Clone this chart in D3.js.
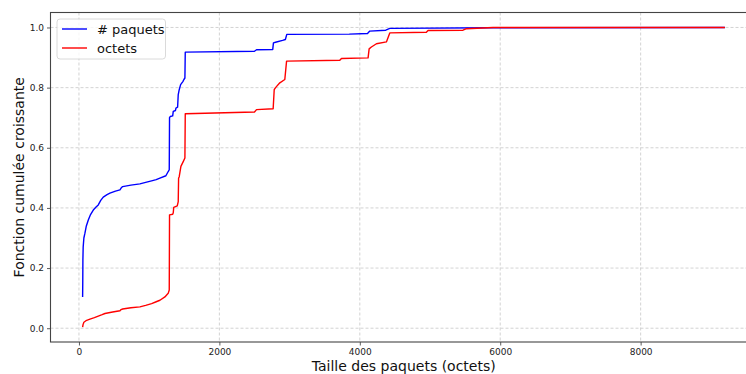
<!DOCTYPE html>
<html>
<head>
<meta charset="utf-8">
<script src="https://cdn.jsdelivr.net/npm/d3@7/dist/d3.min.js"></script>
<style>
  html, body { margin: 0; padding: 0; background: #fff; }
  svg { display: block; font-family: "DejaVu Sans", sans-serif; }
</style>
</head>
<body>
<svg id="chart" width="746" height="374"></svg>
<script>
// CDF of packet sizes: share of packets and share of bytes
const xPaquets = [52, 54, 56, 60, 70, 85, 105, 133, 165, 204, 240, 275, 310, 346, 400, 441, 520, 584, 600, 622,
  740, 868, 950, 1034, 1100, 1153, 1238, 1271, 1286, 1290, 1300, 1335, 1343, 1375, 1381, 1405, 1414, 1428, 1448,
  1480, 1495, 1509, 1514, 2500, 2529, 2760, 2770, 2800, 2900, 2940, 2960, 3850, 4110, 4142, 4370, 4427, 5900, 9200];
const yPaquets = [0.104, 0.15, 0.227, 0.27, 0.30, 0.316, 0.34, 0.36, 0.378, 0.393, 0.402, 0.41, 0.425, 0.436, 0.444,
  0.449, 0.456, 0.46, 0.466, 0.471, 0.476, 0.48, 0.485, 0.49, 0.494, 0.499, 0.507, 0.521, 0.527, 0.70, 0.704, 0.706,
  0.721, 0.724, 0.732, 0.735, 0.777, 0.793, 0.81, 0.82, 0.827, 0.832, 0.918, 0.921, 0.926, 0.927, 0.949, 0.951,
  0.957, 0.96, 0.977, 0.978, 0.98, 0.988, 0.991, 0.997, 0.999, 1.0];

const xOctets = [52, 58, 70, 100, 157, 220, 275, 330, 370, 480, 584, 600, 622, 740, 868, 950, 1035, 1100, 1153,
  1224, 1271, 1286, 1290, 1335, 1343, 1350, 1400, 1414, 1419, 1428, 1452, 1485, 1509, 1514, 2500, 2529, 2766,
  2781, 2800, 2861, 2932, 2957, 3715, 3739, 4118, 4133, 4165, 4237, 4379, 4427, 4948, 4972, 5470, 5519, 5898, 9200];
const yOctets = [0.004, 0.012, 0.02, 0.025, 0.03, 0.035, 0.04, 0.045, 0.049, 0.054, 0.058, 0.062, 0.064, 0.068,
  0.071, 0.076, 0.082, 0.088, 0.093, 0.104, 0.116, 0.127, 0.377, 0.379, 0.384, 0.402, 0.407, 0.421, 0.499, 0.504,
  0.538, 0.554, 0.566, 0.713, 0.719, 0.727, 0.73, 0.793, 0.80, 0.816, 0.827, 0.888, 0.891, 0.897, 0.899, 0.929,
  0.935, 0.946, 0.952, 0.982, 0.984, 0.99, 0.991, 0.996, 1.0, 1.0];

const xTicks = [0, 2000, 4000, 6000, 8000];
const yTicks = [0.0, 0.2, 0.4, 0.6, 0.8, 1.0];
const seriesNames = ["# paquets", "octets"];
const seriesColors = ["#0000ff", "#ff0000"];

const svg = d3.select("#chart");
const plot = { left: 50.5, right: 757, top: 12.5, bottom: 342 };

const allX = xPaquets.concat(xOctets);
const allY = yPaquets.concat(yOctets);
const [x0, x1] = d3.extent(allX);
const [y0, y1] = d3.extent(allY);
const xPad = (x1 - x0) * 0.05, yPad = (y1 - y0) * 0.05;

const x = d3.scaleLinear().domain([x0 - xPad, x1 + xPad]).range([plot.left, plot.right]);
const y = d3.scaleLinear().domain([y0 - yPad, y1 + yPad]).range([plot.bottom, plot.top]);

// grid
const grid = svg.append("g").attr("stroke", "#c8c8c8").attr("stroke-width", 0.8)
  .attr("stroke-dasharray", "3,2").attr("fill", "none");
xTicks.forEach(t => grid.append("line")
  .attr("x1", x(t)).attr("x2", x(t)).attr("y1", plot.top).attr("y2", plot.bottom));
yTicks.forEach(t => grid.append("line")
  .attr("x1", plot.left).attr("x2", plot.right).attr("y1", y(t)).attr("y2", y(t)));

// series
const line = d3.line().x(d => x(d[0])).y(d => y(d[1]));
const series = [
  d3.zip(xPaquets, yPaquets),
  d3.zip(xOctets, yOctets)
];
series.forEach((pts, i) => {
  svg.append("path").datum(pts)
    .attr("d", line)
    .attr("fill", "none")
    .attr("stroke", seriesColors[i])
    .attr("stroke-width", 1.4)
    .attr("stroke-linejoin", "round");
});

// axes
const xAxis = d3.axisBottom(x).tickValues(xTicks).tickFormat(d3.format("d")).tickSize(3.5).tickPadding(3);
const yAxis = d3.axisLeft(y).tickValues(yTicks).tickFormat(d3.format(".1f")).tickSize(3.5).tickPadding(3);

const gx = svg.append("g").attr("transform", `translate(0,${plot.bottom})`).call(xAxis);
const gy = svg.append("g").attr("transform", `translate(${plot.left},0)`).call(yAxis);
[gx, gy].forEach(g => {
  g.select(".domain").remove();
  g.selectAll(".tick line").attr("stroke", "#333").attr("stroke-width", 0.8);
  g.selectAll(".tick text").attr("fill", "#222").attr("font-size", "9px")
    .attr("font-family", "DejaVu Sans, sans-serif");
});

// frame
svg.append("rect")
  .attr("x", plot.left).attr("y", plot.top)
  .attr("width", plot.right - plot.left).attr("height", plot.bottom - plot.top)
  .attr("fill", "none").attr("stroke", "#444").attr("stroke-width", 1.1);

// axis labels
svg.append("text")
  .attr("x", (plot.left + plot.right) / 2).attr("y", 371)
  .attr("text-anchor", "middle").attr("font-size", "14px").attr("fill", "#111")
  .text("Taille des paquets (octets)");
svg.append("text")
  .attr("transform", `translate(24,${(plot.top + plot.bottom) / 2}) rotate(-90)`)
  .attr("text-anchor", "middle").attr("font-size", "14px").attr("fill", "#111")
  .text("Fonction cumulée croissante");

// legend
const lg = svg.append("g").attr("transform", "translate(57,19)");
lg.append("rect").attr("width", 108.5).attr("height", 40).attr("rx", 3)
  .attr("fill", "#fff").attr("fill-opacity", 0.8).attr("stroke", "#d0d0d0").attr("stroke-width", 0.8);
seriesNames.forEach((name, i) => {
  const yy = 10 + i * 19;
  lg.append("line").attr("x1", 5).attr("x2", 30).attr("y1", yy).attr("y2", yy)
    .attr("stroke", seriesColors[i]).attr("stroke-width", 1.4);
  lg.append("text").attr("x", 40).attr("y", yy + 4.5)
    .attr("font-size", "13px").attr("fill", "#111").text(name);
});
</script>
</body>
</html>
